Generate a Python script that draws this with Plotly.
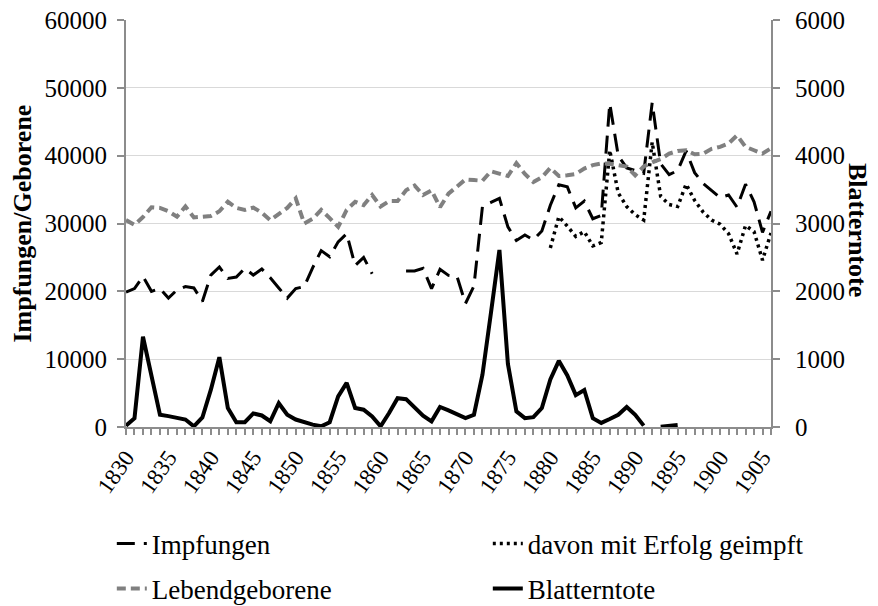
import plotly.graph_objects as go

years = list(range(1830, 1907))

impfungen = [
    19900, 20400, 22200, 20000, 20400, 19000, 20200, 20700, 20500, 18500,  # 1830-1839
    22400, 23600, 21900, 22100, 23400, 22400, 23300, 22000, 20500, 19000,  # 1840-1849
    20400, 20700, 23500, 26000, 25100, 27300, 28500, 23800, 25000, 22600,  # 1850-1859
    None, None, None, 23000, 23000, 23400, 20400, 23250, 22350, 22200,    # 1860-1869
    18200, 20800, 32500, 33100, 33700, 29500, 27500, 28300, 27600, 28900,  # 1870-1879
    32700, 35700, 35400, 32300, 33300, 30700, 31200, 47700, 40000, 38200,  # 1880-1889
    37800, 37400, 47800, 38800, 37200, 37800, 40700, 37500, 35900, 34800,  # 1890-1899
    33800, 34200, 32400, 35800, 33200, 28700, 31800,                      # 1900-1906
]

erfolg = [None] * 50 + [
    26400, 31000, 29600, 28100, 28800, 26700, 27200, 40800, 34500, 32500,  # 1880-1889
    31300, 30500, 42000, 34000, 32800, 32500, 35800, 33400, 31700, 30500,  # 1890-1899
    29900, 28500, 25500, 29700, 28800, 24600, 28600,                      # 1900-1906
]

lebendgeborene = [
    30500, 29800, 30950, 32400, 32300, 31800, 31000, 32500, 30900, 30950,  # 1830-1839
    31100, 31800, 33200, 32300, 32000, 32350, 31600, 30500, 31450, 32300,  # 1840-1849
    33700, 30000, 30700, 32000, 30800, 29500, 32000, 33200, 32700, 34200,  # 1850-1859
    32500, 33300, 33300, 34900, 35600, 34200, 34900, 32400, 34400, 35400,  # 1860-1869
    36500, 36400, 36300, 37700, 37300, 37000, 38900, 37300, 36100, 36800,  # 1870-1879
    38200, 37000, 37100, 37300, 38100, 38600, 38850, 38800, 38600, 38400,  # 1880-1889
    37100, 38400, 39000, 39500, 40300, 40700, 40800, 40200, 40300, 41000,  # 1890-1899
    41300, 41800, 43000, 41300, 40800, 40300, 41100,                      # 1900-1906
]

blatterntote = [
    20, 130, 1330, 780, 180, 160, 130, 110, 10, 140,        # 1830-1839
    550, 1030, 280, 70, 70, 200, 170, 85, 350, 180,         # 1840-1849
    110, 70, 35, 10, 70, 450, 650, 280, 255, 157,           # 1850-1859
    10, 205, 425, 410, 280, 167, 83, 295, 245, 180,         # 1860-1869
    130, 180, 770, 1680, 2610, 930, 230, 130, 145, 280,     # 1870-1879
    700, 975, 760, 470, 545, 130, 60, 118, 180, 295,        # 1880-1889
    180, 20, None, 5, 20, 30, None, None, None, None,       # 1890-1899
    None, None, None, None, None, None, None,               # 1900-1906
]

label_years = list(range(1830, 1906, 5))

FONT = "Liberation Serif"

fig = go.Figure()
fig.add_trace(go.Scatter(x=years, y=impfungen, name="Impfungen", mode="lines",
                         legend="legend",
                         line=dict(color="black", width=3, dash="18px,9px")))
fig.add_trace(go.Scatter(x=years, y=erfolg, name="davon mit Erfolg geimpft", mode="lines",
                         legend="legend",
                         line=dict(color="black", width=3.5, dash="3px,4px")))
fig.add_trace(go.Scatter(x=years, y=lebendgeborene, name="Lebendgeborene", mode="lines",
                         legend="legend2",
                         line=dict(color="#808080", width=4, dash="9px,5px")))
fig.add_trace(go.Scatter(x=years, y=blatterntote, name="Blatterntote", mode="lines",
                         legend="legend2",
                         yaxis="y2", line=dict(color="black", width=4)))

axis_grey = "#8c8c8c"
legend_common = dict(orientation="h", xanchor="left", yanchor="middle",
                     font=dict(family=FONT, size=27, color="black"),
                     entrywidth=331, entrywidthmode="pixels", itemwidth=30,
                     bgcolor="rgba(0,0,0,0)")

# the page body adds an 8px offset, so the margins are shifted to compensate
fig.update_layout(
    width=878, height=606,
    margin=dict(l=118, r=115, t=12, b=187, autoexpand=False),
    paper_bgcolor="white", plot_bgcolor="white",
    font=dict(family=FONT, color="black", size=24),
    showlegend=True,
    legend=dict(x=-0.022, y=-0.2875, **legend_common),
    legend2=dict(x=-0.022, y=-0.398, **legend_common),
    xaxis=dict(range=[1830, 1906], tickmode="array", tickvals=label_years,
               ticktext=[str(y) for y in label_years], tickangle=-55,
               showgrid=False, zeroline=False, showline=True, linecolor=axis_grey,
               linewidth=2, ticks="outside", ticklen=6, tickcolor=axis_grey, tickwidth=1.5,
               minor=dict(dtick=1, ticks="outside", ticklen=6, tickcolor=axis_grey,
                          tickwidth=1.5, showgrid=False),
               tickfont=dict(family=FONT, size=23), automargin=False),
    yaxis=dict(range=[0, 60000], dtick=10000, tickformat="d", showgrid=True,
               gridcolor="#d9d9d9", gridwidth=1.3, zeroline=False, showline=True,
               linecolor=axis_grey, linewidth=2, ticks="outside", ticklen=7,
               tickcolor=axis_grey, tickwidth=1.5, ticklabelstandoff=5,
               ticklabeloverflow="allow",
               tickfont=dict(family=FONT, size=25), automargin=False),
    yaxis2=dict(range=[0, 6000], dtick=1000, tickformat="d", overlaying="y", side="right",
                showgrid=False, zeroline=False, showline=True, linecolor=axis_grey,
                linewidth=2, ticks="outside", ticklen=7, tickcolor=axis_grey, tickwidth=1.5,
                ticklabelstandoff=10, ticklabeloverflow="allow",
                tickfont=dict(family=FONT, size=25), automargin=False),
    annotations=[
        dict(text="<b>Impfungen/Geborene</b>", xref="paper", yref="paper",
             x=-0.1597, y=0.5, xanchor="center", yanchor="middle",
             showarrow=False, textangle=-90,
             font=dict(family=FONT, size=26, color="black")),
        dict(text="<b>Blatterntote</b>", xref="paper", yref="paper",
             x=1.135, y=0.484, xanchor="center", yanchor="middle",
             showarrow=False, textangle=90,
             font=dict(family=FONT, size=26, color="black")),
    ],
)

fig.write_html("out.html")
